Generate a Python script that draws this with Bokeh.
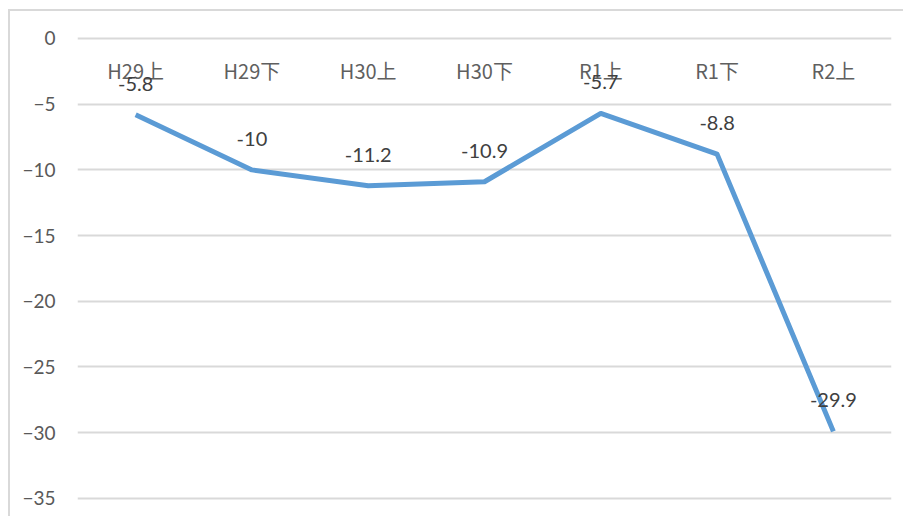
from bokeh.plotting import figure
from bokeh.models import Range1d, FixedTicker, ColumnDataSource
from bokeh.core.properties import value
from bokeh.embed import file_html
from bokeh.resources import INLINE

categories = ["H29上", "H29下", "H30上", "H30下", "R1上", "R1下", "R2上"]
values = [-5.8, -10, -11.2, -10.9, -5.7, -8.8, -29.9]
value_labels = ["-5.8", "-10", "-11.2", "-10.9", "-5.7", "-8.8", "-29.9"]
y_ticks = [0, -5, -10, -15, -20, -25, -30, -35]

xs = list(range(len(categories)))
src = ColumnDataSource(dict(x=xs, y=values, lab=value_labels, cat=categories, zero=[0] * len(xs)))

p = figure(width=895, height=507, output_backend="svg", toolbar_location=None,
           x_range=Range1d(-0.5, 6.5), y_range=Range1d(-36.53, 1.75),
           x_axis_location=None, min_border_left=67, min_border_right=14,
           min_border_top=4, min_border_bottom=0)
p.styles = {"border-left": "2px solid #d9d9d9", "border-top": "2px solid #d9d9d9",
            "margin-left": "8px", "margin-top": "9px"}
p.outline_line_color = None
p.xgrid.visible = False
p.ygrid.grid_line_color = "#d9d9d9"
p.ygrid.grid_line_width = 2
p.yaxis.ticker = FixedTicker(ticks=y_ticks)
p.yaxis.axis_line_color = None
p.yaxis.major_tick_line_color = None
p.yaxis.minor_tick_line_color = None
p.yaxis.major_label_standoff = 16
p.yaxis.major_label_text_font = "Lato"
p.yaxis.major_label_text_font_size = "19px"
p.yaxis.major_label_text_color = "#595959"

p.line("x", "y", source=src, line_color="#5B9BD5", line_width=5, line_join="round")

p.text("x", "zero", text="cat", source=src, text_align="center", text_baseline="middle",
       y_offset=32, text_font=value("Noto Sans CJK JP"), text_font_size="20px", text_color="#5f5f5f")
p.text("x", "y", text="lab", source=src, text_align="center", text_baseline="middle",
       y_offset=-31, text_font=value("Lato"), text_font_size="20px", text_color="#404040")

open("out.html", "w").write(file_html(p, INLINE))
